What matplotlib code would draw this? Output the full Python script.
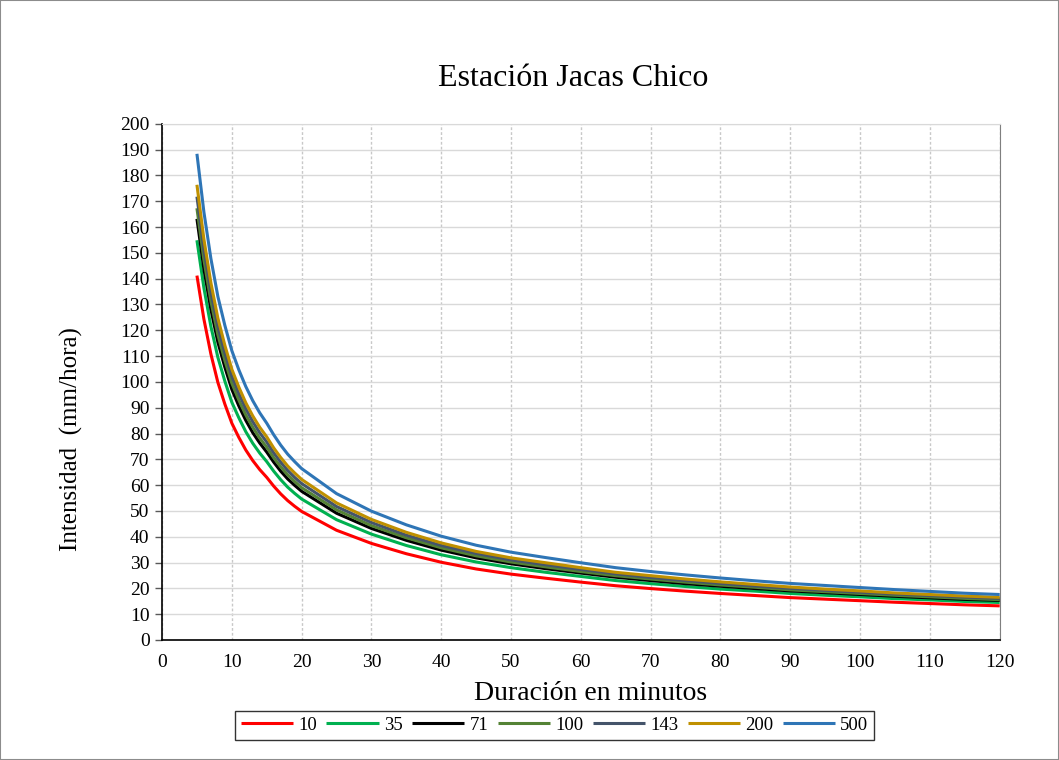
import matplotlib
matplotlib.use("Agg")
import matplotlib.pyplot as plt
from matplotlib.patches import Rectangle

plt.rcParams['font.family'] = ['Liberation Serif', 'DejaVu Serif']

# Duración (min)
durations = [5, 6, 7, 8, 9, 10, 11, 12, 13, 14, 15, 16, 17, 18, 19, 20,
             25, 30, 35, 40, 45, 50, 55, 60, 65, 70, 75, 80, 85, 90, 95,
             100, 105, 110, 115, 120]

# Intensidad (mm/hora) por periodo de retorno (años)
i_10 = [141.2, 124.3, 110.8, 99.8, 91.4, 84.0, 78.5, 73.6, 69.5, 66.0, 63.0,
        59.6, 56.6, 54.0, 51.8, 49.8,
        42.5, 37.4, 33.4, 30.1, 27.5, 25.5, 23.9, 22.4, 21.0, 19.9, 18.9,
        18.0, 17.2, 16.4, 15.8, 15.2, 14.6, 14.1, 13.6, 13.2]
i_35 = [154.9, 136.4, 121.5, 109.5, 100.3, 92.1, 86.1, 80.7, 76.2, 72.4, 69.1,
        65.4, 62.1, 59.2, 56.8, 54.6,
        46.6, 41.0, 36.6, 33.0, 30.2, 28.0, 26.2, 24.6, 23.0, 21.8, 20.7,
        19.7, 18.9, 18.0, 17.3, 16.7, 16.0, 15.5, 14.9, 14.5]
i_71 = [163.2, 143.7, 128.1, 115.4, 105.7, 97.1, 90.7, 85.1, 80.3, 76.3, 72.8,
        68.9, 65.4, 62.4, 59.9, 57.6,
        49.1, 43.2, 38.6, 34.8, 31.8, 29.5, 27.6, 25.9, 24.3, 23.0, 21.8,
        20.8, 19.9, 19.0, 18.3, 17.6, 16.9, 16.3, 15.7, 15.3]
i_100 = [167.3, 147.3, 131.3, 118.3, 108.3, 99.5, 93.0, 87.2, 82.4, 78.2, 74.7,
         70.6, 67.1, 64.0, 61.4, 59.0,
         50.4, 44.3, 39.6, 35.7, 32.6, 30.2, 28.3, 26.5, 24.9, 23.6, 22.4,
         21.3, 20.4, 19.4, 18.7, 18.0, 17.3, 16.7, 16.1, 15.6]
i_143 = [171.8, 151.3, 134.8, 121.5, 111.2, 102.2, 95.5, 89.6, 84.6, 80.3, 76.7,
         72.5, 68.9, 65.7, 63.0, 60.6,
         51.7, 45.5, 40.6, 36.6, 33.5, 31.0, 29.1, 27.3, 25.6, 24.2, 23.0,
         21.9, 20.9, 20.0, 19.2, 18.5, 17.8, 17.2, 16.6, 16.1]
i_200 = [176.4, 155.3, 138.4, 124.7, 114.2, 104.9, 98.0, 91.9, 86.8, 82.4, 78.7,
         74.4, 70.7, 67.4, 64.7, 62.2,
         53.1, 46.7, 41.7, 37.6, 34.3, 31.8, 29.9, 28.0, 26.2, 24.9, 23.6,
         22.5, 21.5, 20.5, 19.7, 19.0, 18.2, 17.6, 17.0, 16.5]
i_500 = [188.4, 165.8, 147.8, 133.1, 121.9, 112.1, 104.7, 98.2, 92.7, 88.0, 84.0,
         79.5, 75.5, 72.0, 69.1, 66.4,
         56.7, 49.9, 44.6, 40.2, 36.7, 34.0, 31.9, 29.9, 28.0, 26.5, 25.2,
         24.0, 22.9, 21.9, 21.1, 20.3, 19.5, 18.8, 18.1, 17.6]

labels = ['10', '35', '71', '100', '143', '200', '500']
series = [i_10, i_35, i_71, i_100, i_143, i_200, i_500]
colors = ['#FF0000', '#00B050', '#000000', '#548235', '#44546A', '#BF9000', '#2E75B6']

fig = plt.figure(figsize=(10.59, 7.60), dpi=100)
ax = fig.add_axes([0.153, 0.158, 0.791, 0.679])

for lab, vals, col in zip(labels, series, colors):
    ax.plot(durations, vals, color=col, lw=2.2, label=lab,
            solid_capstyle='butt', solid_joinstyle='round')

ax.set_xlim(0, 120)
ax.set_ylim(0, 200)
ax.set_xticks(range(0, 121, 10))
ax.set_yticks(range(0, 201, 10))

ax.grid(axis='y', color='#d9d9d9', lw=1.0, ls='-')
ax.grid(axis='x', color='#c8c8c8', lw=1.0, ls=(0, (2, 1.5)))
ax.set_axisbelow(True)

ax.spines['left'].set_color('black')
ax.spines['bottom'].set_color('black')
ax.spines['left'].set_linewidth(1.2)
ax.spines['bottom'].set_linewidth(1.2)
ax.spines['top'].set_color('#d9d9d9')
ax.spines['right'].set_color('#7f7f7f')

ax.tick_params(axis='y', direction='out', length=5, width=1, color='#595959',
               labelsize=14, pad=4)
ax.tick_params(axis='x', length=0, labelsize=14, pad=10)

ax.text(0.4905, 1.088, 'Estación Jacas Chico', transform=ax.transAxes,
        fontsize=23, ha='center', va='center')

ax.set_xlabel('Duración en minutos', fontsize=20, va='center')
ax.xaxis.set_label_coords(0.512, -0.103)
ax.set_ylabel('Intensidad  (mm/hora)', fontsize=18, va='center')
ax.yaxis.set_label_coords(-0.108, 0.39)

leg = fig.legend(loc='center', bbox_to_anchor=(0.5236, 0.0454), ncol=7,
                 fontsize=13.5, frameon=True, fancybox=False, handlelength=2.8,
                 handletextpad=0.27, columnspacing=0.5, borderpad=0.3,
                 borderaxespad=0.2, edgecolor='black')
leg.get_frame().set_linewidth(1.0)

fig.patches.append(Rectangle((0, 0), 1, 1, transform=fig.transFigure,
                             fill=False, edgecolor='#8c8c8c', lw=1.5))

fig.savefig('out.png', dpi=100)
